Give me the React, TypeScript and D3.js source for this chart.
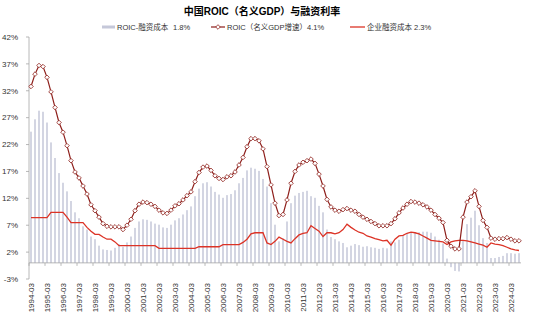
import React from 'react';
import * as d3 from 'd3';

const roic = [
  32.8, 35.1, 36.7, 36.5, 34.5, 31.8, 28.9, 26.1, 24.3, 21.8,
  19.0, 16.9, 15.8, 14.3, 12.8, 10.8, 9.7, 8.5, 7.3, 6.8,
  6.7, 6.7, 6.7, 6.2, 7.0, 8.1, 9.7, 10.9, 11.3, 11.2,
  10.9, 10.5, 9.8, 9.3, 9.2, 9.8, 10.6, 11.0, 11.7, 12.5,
  13.2, 15.1, 16.8, 17.8, 18.0, 17.2, 16.2, 15.7, 15.5, 16.0,
  16.2, 16.9, 18.2, 19.6, 21.6, 23.1, 23.1, 22.7, 21.2, 17.9,
  14.5, 11.1, 8.8, 9.0, 11.7, 14.8, 17.0, 18.2, 18.7, 19.0,
  19.3, 18.5, 16.5, 14.3, 11.8, 10.4, 9.8, 9.6, 9.9, 10.1,
  9.8, 9.6, 9.0, 8.5, 8.1, 7.7, 7.3, 6.9, 6.9, 6.9,
  7.3, 8.2, 9.3, 10.2, 10.9, 11.4, 11.3, 11.1, 10.8, 10.4,
  9.8, 9.0, 8.3, 7.5, 4.2, 3.1, 2.6, 2.6, 8.5, 11.3,
  12.3, 13.4, 10.5, 7.9, 6.6, 4.6, 4.4, 4.5, 4.5, 4.7,
  4.4, 4.1, 4.1,
];

const cost = [
  8.4, 8.4, 8.4, 8.4, 8.4, 9.4, 9.4, 9.4, 9.4, 8.5,
  7.5, 7.5, 7.5, 7.5, 6.6, 5.9, 5.3, 5.3, 4.8, 4.4,
  4.4, 3.9, 3.2, 3.2, 3.2, 3.2, 3.2, 3.2, 3.2, 3.2,
  3.2, 3.2, 2.7, 2.7, 2.7, 2.7, 2.7, 2.7, 2.7, 2.7,
  2.7, 2.7, 3.0, 3.0, 3.0, 3.0, 3.0, 3.0, 3.4, 3.4,
  3.4, 3.4, 3.4, 3.8, 4.4, 5.4, 5.6, 5.6, 5.6, 3.7,
  3.4, 4.0, 4.8, 4.4, 4.0, 3.7, 4.5, 5.2, 5.5, 5.6,
  6.9, 6.4, 5.9, 4.9, 5.6, 5.6, 5.4, 5.6, 6.2, 7.2,
  6.6, 6.1, 5.7, 5.5, 5.0, 4.8, 4.5, 4.3, 4.1, 4.2,
  3.3, 4.4, 5.0, 5.1, 5.5, 5.7, 5.6, 5.4, 5.0, 4.6,
  4.2, 4.1, 4.0, 3.9, 3.4, 3.9, 4.1, 4.2, 4.2, 4.1,
  3.9, 3.7, 3.5, 3.3, 2.9, 3.7, 3.5, 3.4, 3.2, 2.9,
  2.6, 2.4, 2.3,
];

const spread = [
  24.4, 26.7, 28.3, 28.1, 26.1, 22.4, 19.5, 16.7, 14.9, 13.3,
  11.5, 9.4, 8.3, 6.8, 6.2, 4.9, 4.4, 3.2, 2.5, 2.4,
  2.3, 2.8, 3.5, 3.0, 3.8, 4.9, 6.5, 7.7, 8.1, 8.0,
  7.7, 7.3, 7.1, 6.6, 6.5, 7.1, 7.9, 8.3, 9.0, 9.8,
  10.5, 12.4, 13.8, 14.8, 15.0, 14.2, 13.2, 12.7, 12.1, 12.6,
  12.8, 13.5, 14.8, 15.8, 17.2, 17.7, 17.5, 17.1, 15.6, 14.2,
  11.1, 7.1, 4.0, 4.6, 7.7, 11.1, 12.5, 13.0, 13.2, 13.4,
  12.4, 12.1, 10.6, 9.4, 6.2, 4.8, 4.4, 4.0, 3.7, 2.9,
  3.2, 3.5, 3.3, 3.0, 3.1, 2.9, 2.8, 2.6, 2.8, 2.7,
  4.0, 3.8, 4.3, 5.1, 5.4, 5.7, 5.7, 5.7, 5.8, 5.8,
  5.6, 4.9, 4.3, 3.6, 0.8, -0.8, -1.5, -1.6, 4.3, 7.2,
  8.4, 9.7, 7.0, 4.6, 3.7, 0.9, 0.9, 1.1, 1.3, 1.8,
  1.8, 1.7, 1.8,
];

const quarterSuffix = ['03', '06', '09', '12'];
const firstYear = 1994;
const categories = roic.map((_, i) => `${firstYear + Math.floor(i / 4)}-${quarterSuffix[i % 4]}`);
const xTickLabels = [
  '1994-03', '1995-03', '1996-03', '1997-03', '1998-03', '1999-03', '2000-03', '2001-03',
  '2002-03', '2003-03', '2004-03', '2005-03', '2006-03', '2007-03', '2008-03', '2009-03',
  '2010-03', '2011-03', '2012-03', '2013-03', '2014-03', '2015-03', '2016-03', '2017-03',
  '2018-03', '2019-03', '2020-03', '2021-03', '2022-03', '2023-03', '2024-03',
];
const yTicks = [-3, 2, 7, 12, 17, 22, 27, 32, 37, 42];

const title = '中国ROIC（名义GDP）与融资利率';
const legendSpread = 'ROIC-融资成本';
const legendSpreadVal = '1.8%';
const legendRoic = 'ROIC（名义GDP增速）4.1%';
const legendCost = '企业融资成本 2.3%';

const FONT = '"Liberation Sans", Arial, "Noto Sans CJK SC", sans-serif';
const BAR = '#c5c8d9';
const ROIC_C = '#8e1f1b';
const COST_C = '#dc3326';
const AXIS = '#a6a6a6';

export default function App() {
  const left = 29, right = 521, top = 37, bottom = 279;
  const x = d3.scaleBand<string>().domain(categories).range([left, right]).padding(0);
  const y = d3.scaleLinear().domain([-3, 42]).range([bottom, top]);
  const bw = x.bandwidth();
  const cx = (i: number) => (x(categories[i]) as number) + bw / 2;
  const y0 = y(0);

  const line = d3.line<number>().x((_, i) => cx(i)).y((d) => y(d));
  const r = 2.3;
  const diamond = (px: number, py: number, s: number) =>
    `M${px},${py - s}L${px + s},${py}L${px},${py + s}L${px - s},${py}Z`;

  return (
    <svg width={550} height={322} style={{ position: 'absolute', left: 0, top: 0, background: '#fff' }} fontFamily={FONT}>
      <rect x={0} y={0} width={550} height={322} fill="#fff" />
      <text x={262} y={15} textAnchor="middle" fontSize={10} fontWeight="bold" fill="#000">{title}</text>

      {/* legend */}
      <rect x={102} y={25.5} width={13} height={3} fill={BAR} />
      <text x={117} y={30} fontSize={7.5} fill="#333">{legendSpread}</text>
      <text x={173} y={30} fontSize={7.5} fill="#333">{legendSpreadVal}</text>
      <line x1={211} x2={225} y1={27} y2={27} stroke={ROIC_C} strokeWidth={1.2} />
      <path d={diamond(218, 27, r)} fill="#fff" stroke={ROIC_C} strokeWidth={0.8} />
      <text x={227} y={30} fontSize={7.5} fill="#333">{legendRoic}</text>
      <line x1={350} x2={365} y1={27} y2={27} stroke={COST_C} strokeWidth={1.3} />
      <text x={367} y={30} fontSize={7.5} fill="#333">{legendCost}</text>

      {/* bars */}
      {spread.map((v, i) => (
        <rect key={i} x={cx(i) - 0.75} width={1.5} y={Math.min(y(v), y0)} height={Math.abs(y(v) - y0)} fill={BAR} />
      ))}

      {/* axes */}
      <line x1={left} x2={left} y1={top} y2={bottom} stroke={AXIS} strokeWidth={0.8} />
      {yTicks.map((t) => (
        <g key={t}>
          <line x1={left - 3} x2={left} y1={y(t)} y2={y(t)} stroke={AXIS} strokeWidth={0.8} />
          <text x={18} y={y(t) + 2.8} textAnchor="end" fontSize={8} fill="#333">{`${t}%`}</text>
        </g>
      ))}
      <line x1={left} x2={right} y1={y0} y2={y0} stroke={AXIS} strokeWidth={0.8} />
      {xTickLabels.map((lab) => {
        const xi = x(lab) as number;
        return (
          <g key={lab}>
            <line x1={xi} x2={xi} y1={y0} y2={y0 + 3} stroke={AXIS} strokeWidth={0.8} />
            <text transform={`translate(${xi + bw / 2 + 2.8},${bottom + 4}) rotate(-90)`} textAnchor="end" fontSize={8} fill="#333">{lab}</text>
          </g>
        );
      })}

      {/* cost line */}
      <path d={line(cost) || ''} fill="none" stroke={COST_C} strokeWidth={1.3} />

      {/* roic line */}
      <path d={line(roic) || ''} fill="none" stroke={ROIC_C} strokeWidth={1.2} />
      {roic.map((v, i) => (
        <path key={i} d={diamond(cx(i), y(v), r)} fill="#fff" stroke={ROIC_C} strokeWidth={0.8} />
      ))}
    </svg>
  );
}
